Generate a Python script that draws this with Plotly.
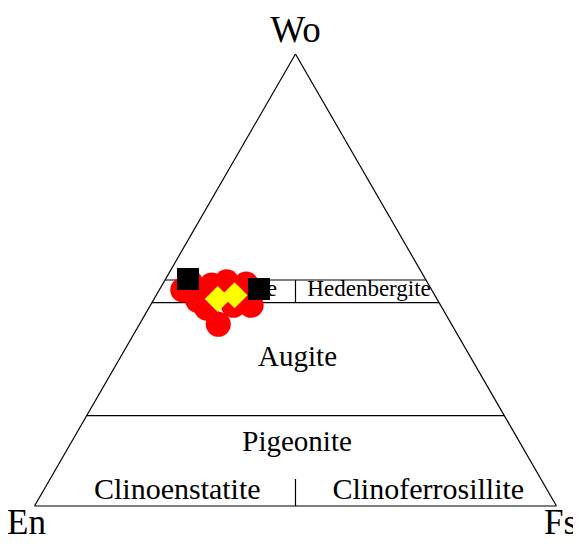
import plotly.graph_objects as go

# Field boundaries (Wo, En, Fs fractions)
boundary_wo = [[0.50, 0.50], [0.45, 0.45], [0.20, 0.20], [0.50, 0.45], [0.0, 0.06]]
boundary_en = [[0.50, 0.0], [0.55, 0.0], [0.80, 0.0], [0.25, 0.275], [0.50, 0.47]]
boundary_fs = [[0.0, 0.50], [0.0, 0.55], [0.0, 0.80], [0.25, 0.275], [0.50, 0.47]]

# Field labels
label_text = ["Diopside", "Hedenbergite", "Augite", "Pigeonite", "Clinoenstatite", "Clinoferrosillite"]
label_wo = [0.478, 0.478, 0.326, 0.138, 0.031, 0.031]
label_en = [0.376, 0.120, 0.333, 0.428, 0.711, 0.230]
label_fs = [0.146, 0.402, 0.341, 0.434, 0.258, 0.739]
label_size = [23, 23, 29, 29, 30, 30]

# Pyroxene analyses
red_wo = [0.478, 0.455, 0.489, 0.496, 0.491, 0.444, 0.444, 0.4375, 0.402, 0.496, 0.4665]
red_en = [0.477, 0.460, 0.416, 0.384, 0.349, 0.363, 0.397, 0.4515, 0.447, 0.454, 0.3705]
red_fs = [0.045, 0.085, 0.095, 0.120, 0.160, 0.193, 0.159, 0.111, 0.151, 0.050, 0.163]

yellow_wo = [0.458, 0.4665]
yellow_en = [0.420, 0.3835]
yellow_fs = [0.122, 0.150]

black_wo = [0.502, 0.480]
black_en = [0.455, 0.330]
black_fs = [0.043, 0.190]

serif = "Liberation Serif, Times New Roman, serif"

fig = go.Figure()

for a, b, c in zip(boundary_wo, boundary_en, boundary_fs):
    fig.add_trace(go.Scatterternary(a=a, b=b, c=c, mode="lines",
                                    line=dict(color="black", width=1.2),
                                    hoverinfo="skip", showlegend=False))

for t, a, b, c, s in zip(label_text, label_wo, label_en, label_fs, label_size):
    fig.add_trace(go.Scatterternary(a=[a], b=[b], c=[c], mode="text", text=[t],
                                    textposition="middle center",
                                    textfont=dict(family=serif, size=s, color="black"),
                                    hoverinfo="skip", showlegend=False))

fig.add_trace(go.Scatterternary(a=red_wo, b=red_en, c=red_fs, mode="markers",
                                marker=dict(symbol="circle", size=25, color="#ff0000",
                                            line=dict(width=0)),
                                showlegend=False))
fig.add_trace(go.Scatterternary(a=yellow_wo, b=yellow_en, c=yellow_fs, mode="markers",
                                marker=dict(symbol="diamond", size=20, color="#ffff00",
                                            line=dict(width=0)),
                                showlegend=False))
fig.add_trace(go.Scatterternary(a=black_wo, b=black_en, c=black_fs, mode="markers",
                                marker=dict(symbol="square", size=22, color="black",
                                            line=dict(width=0)),
                                showlegend=False))

axis_common = dict(showgrid=False, showticklabels=False, ticks="", showline=True,
                   linecolor="black", linewidth=1.2, min=0)

fig.update_layout(
    width=581, height=545,
    margin=dict(l=24, r=30, t=46, b=47),
    paper_bgcolor="white",
    ternary=dict(
        sum=1,
        bgcolor="white",
        aaxis=dict(title=dict(text="Wo", font=dict(family=serif, size=37, color="black")), **axis_common),
        baxis=dict(title=dict(text=""), **axis_common),
        caxis=dict(title=dict(text=""), **axis_common),
    ),
    annotations=[
        dict(text="En", xref="paper", yref="paper", x=-0.0095, y=-0.0376,
             xanchor="center", yanchor="middle", showarrow=False,
             font=dict(family=serif, size=35, color="black")),
        dict(text="Fs", xref="paper", yref="paper", x=1.0019, y=-0.0376,
             xanchor="center", yanchor="middle", showarrow=False,
             font=dict(family=serif, size=35, color="black")),
    ],
)

fig.write_html("out.html")
